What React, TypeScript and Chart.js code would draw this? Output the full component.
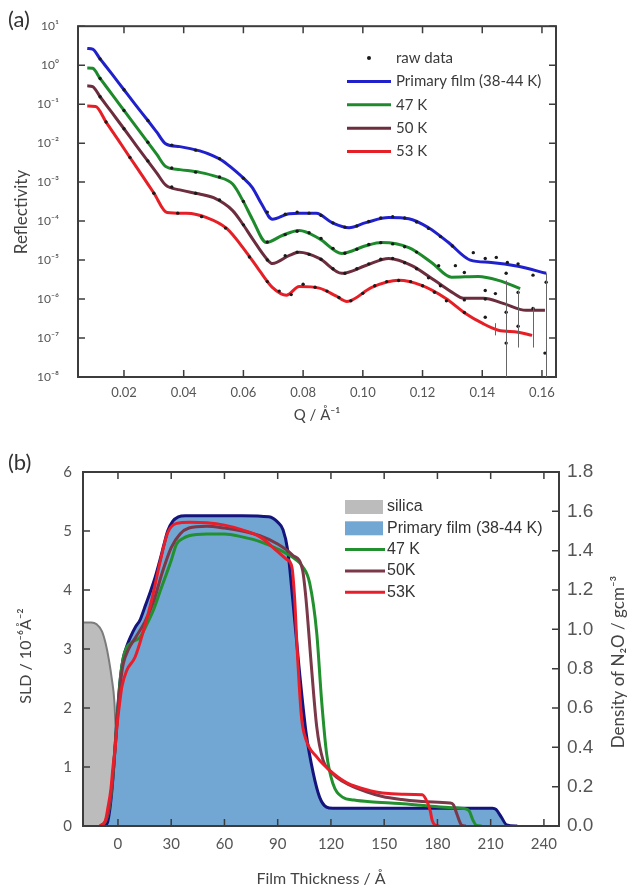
import React, { useEffect, useRef } from 'react';
import { Chart, registerables } from 'chart.js';

Chart.register(...registerables);

const FONT_CAL = "Lato, 'Open Sans', 'DejaVu Sans', sans-serif";
const FONT_ARIAL = "'Liberation Sans', Arial, sans-serif";

// ---------------- Panel (a): reflectivity ----------------
const qTicks = [0.02, 0.04, 0.06, 0.08, 0.1, 0.12, 0.14, 0.16];
const qTickLabels = ['0.02', '0.04', '0.06', '0.08', '0.10', '0.12', '0.14', '0.16'];
const rTicks = [10, 1, 0.1, 0.01, 1e-3, 1e-4, 1e-5, 1e-6, 1e-7, 1e-8];
const rTickLabels = ['10¹', '10⁰', '10⁻¹', '10⁻²', '10⁻³', '10⁻⁴', '10⁻⁵', '10⁻⁶', '10⁻⁷', '10⁻⁸'];

const primaryQ = [0.0077, 0.0095, 0.012, 0.016, 0.02, 0.024, 0.028, 0.031, 0.034, 0.0387, 0.0454, 0.0497, 0.053, 0.056, 0.06, 0.063, 0.066, 0.0697, 0.0754, 0.0787, 0.0844, 0.0897, 0.0954, 0.101, 0.1087, 0.1154, 0.122, 0.1287, 0.136, 0.143, 0.152, 0.1614];
const primaryR = [2.69, 2.57, 1.45, 0.589, 0.234, 0.0933, 0.038, 0.0191, 0.00955, 0.00813, 0.00631, 0.00479, 0.00355, 0.00234, 0.00126, 7.24e-4, 2.82e-4, 1.12e-4, 1.55e-4, 1.58e-4, 1.58e-4, 9.12e-5, 6.76e-5, 9.12e-5, 1.23e-4, 1.15e-4, 6.76e-5, 2.82e-5, 1.0e-5, 8.71e-6, 6.92e-6, 4.57e-6];

const k47Q = [0.0077, 0.0095, 0.012, 0.016, 0.02, 0.024, 0.028, 0.031, 0.034, 0.0387, 0.0454, 0.051, 0.0564, 0.06, 0.063, 0.0677, 0.073, 0.0787, 0.0854, 0.093, 0.101, 0.1064, 0.1154, 0.123, 0.1297, 0.1387, 0.1454, 0.1527];
const k47R = [0.851, 0.832, 0.457, 0.178, 0.0692, 0.0269, 0.0105, 0.00513, 0.00251, 0.00209, 0.00178, 0.00138, 8.91e-4, 3.16e-4, 1.12e-4, 2.82e-5, 4.27e-5, 5.75e-5, 3.55e-5, 1.48e-5, 2.34e-5, 2.82e-5, 2.09e-5, 8.71e-6, 3.63e-6, 3.8e-6, 3.02e-6, 1.86e-6];

const k50Q = [0.0077, 0.0095, 0.012, 0.016, 0.02, 0.024, 0.028, 0.031, 0.034, 0.0387, 0.045, 0.05, 0.0564, 0.06, 0.063, 0.0677, 0.0697, 0.0754, 0.0787, 0.0854, 0.093, 0.101, 0.1087, 0.1164, 0.124, 0.1304, 0.1337, 0.1404, 0.147, 0.1547, 0.161];
const k50R = [0.295, 0.282, 0.155, 0.0603, 0.0234, 0.00891, 0.00347, 0.0017, 8.32e-4, 6.31e-4, 5.01e-4, 3.98e-4, 1.86e-4, 7.94e-5, 3.55e-5, 1.1e-5, 8.13e-6, 1.32e-5, 1.58e-5, 1.1e-5, 4.57e-6, 7.24e-6, 1.1e-5, 7.24e-6, 3.02e-6, 1.41e-6, 1.05e-6, 1.05e-6, 7.76e-7, 5.13e-7, 5.13e-7];

const k53Q = [0.0077, 0.0105, 0.014, 0.018, 0.022, 0.026, 0.03, 0.0344, 0.041, 0.0477, 0.0544, 0.061, 0.0654, 0.0697, 0.0744, 0.0787, 0.0854, 0.091, 0.0947, 0.103, 0.112, 0.1197, 0.1277, 0.1344, 0.14, 0.1454, 0.152, 0.1567];
const k53R = [0.0891, 0.0871, 0.0347, 0.0123, 0.00427, 0.00151, 5.25e-4, 1.66e-4, 1.58e-4, 1.23e-4, 6.46e-5, 1.58e-5, 5.37e-6, 2.0e-6, 1.26e-6, 2.09e-6, 1.91e-6, 1.2e-6, 8.71e-7, 2.0e-6, 3.02e-6, 2.24e-6, 1.05e-6, 4.27e-7, 2.4e-7, 1.58e-7, 1.41e-7, 1.17e-7];

// raw data (all four measurements)
const rawQ = [
  0.012, 0.02, 0.028, 0.036, 0.044, 0.052, 0.06, 0.068, 0.074, 0.078, 0.082, 0.086, 0.09, 0.094, 0.098, 0.102, 0.106, 0.11, 0.114, 0.118, 0.122, 0.126, 0.13, 0.137, 0.141, 0.1447, 0.1484, 0.152, 0.157, 0.1614,
  0.012, 0.02, 0.028, 0.036, 0.044, 0.052, 0.06, 0.068, 0.074, 0.078, 0.082, 0.086, 0.09, 0.094, 0.098, 0.102, 0.106, 0.11, 0.114, 0.118, 0.1254, 0.131, 0.134, 0.141, 0.1444, 0.148, 0.152,
  0.012, 0.02, 0.028, 0.036, 0.044, 0.052, 0.06, 0.068, 0.074, 0.078, 0.082, 0.086, 0.09, 0.094, 0.098, 0.102, 0.106, 0.11, 0.114, 0.118, 0.122, 0.126, 0.134, 0.141, 0.148, 0.157, 0.161,
  0.014, 0.022, 0.03, 0.038, 0.046, 0.054, 0.062, 0.068, 0.072, 0.076, 0.08, 0.084, 0.088, 0.092, 0.096, 0.1, 0.104, 0.108, 0.112, 0.116, 0.12, 0.124, 0.128, 0.134, 0.141, 0.148, 0.152,
];
const rawR = [
  1.45, 0.234, 0.038, 0.0089, 0.0066, 0.004, 0.00126, 1.7e-4, 1.5e-4, 1.7e-4, 1.6e-4, 1.4e-4, 9e-5, 7e-5, 7.5e-5, 9.8e-5, 1.2e-4, 1.3e-4, 1.2e-4, 9.5e-5, 6.5e-5, 4e-5, 2.3e-5, 1.55e-5, 1.1e-5, 1.17e-5, 8.7e-6, 8e-6, 4.1e-6, 2.7e-6,
  0.457, 0.069, 0.0105, 0.0023, 0.0018, 0.00135, 3.2e-4, 2.9e-5, 4.5e-5, 5.5e-5, 5e-5, 3.6e-5, 2e-5, 1.5e-5, 1.9e-5, 2.5e-5, 2.8e-5, 2.6e-5, 2.2e-5, 1.6e-5, 7.2e-6, 7.2e-6, 4.8e-6, 1.66e-6, 1.38e-6, 4.6e-6, 1.48e-6,
  0.155, 0.0234, 0.0035, 7.5e-4, 5.2e-4, 3.5e-4, 8e-5, 1.0e-5, 1.3e-5, 1.6e-5, 1.4e-5, 1.05e-5, 6e-6, 4.6e-6, 6e-6, 8e-6, 1.05e-5, 1.1e-5, 8.5e-6, 6e-6, 3.5e-6, 2.2e-6, 9.5e-7, 1.0e-6, 4.6e-7, 5.7e-7, 4.1e-8,
  0.0347, 0.0043, 5.2e-4, 1.6e-4, 1.3e-4, 6.6e-5, 1.2e-5, 2.8e-6, 1.6e-6, 1.3e-6, 2.4e-6, 2.0e-6, 1.6e-6, 1.1e-6, 9e-7, 1.4e-6, 2.2e-6, 2.8e-6, 3.0e-6, 2.8e-6, 2.2e-6, 1.5e-6, 9e-7, 4.5e-7, 3.4e-7, 7.4e-8, 2.0e-7,
];
// visible error bars
const errQ = [0.1444, 0.148, 0.152, 0.157, 0.1614];
const errLo = [1.17e-7, 1e-9, 5.7e-8, 5.7e-8, 1e-9];
const errHi = [2.4e-7, 3e-6, 1.66e-6, 6.2e-7, 4.6e-6];

const legendLabelsA = ['raw data', 'Primary film (38-44 K)', '47 K', '50 K', '53 K'];

// ---------------- Panel (b): SLD profiles ----------------
const thickTicks = [0, 30, 60, 90, 120, 150, 180, 210, 240];
const thickTickLabels = ['0', '30', '60', '90', '120', '150', '180', '210', '240'];
const sldTicks = [0, 1, 2, 3, 4, 5, 6];
const sldTickLabels = ['0', '1', '2', '3', '4', '5', '6'];
const densTicks = [0, 0.2, 0.4, 0.6, 0.8, 1.0, 1.2, 1.4, 1.6, 1.8];
const densTickLabels = ['0.0', '0.2', '0.4', '0.6', '0.8', '1.0', '1.2', '1.4', '1.6', '1.8'];

const silicaZ = [-20, -15, -12, -9, -7, -5, -3.5, -2, -1, 0, 1, 2.5];
const silicaSLD = [3.45, 3.45, 3.42, 3.3, 3.1, 2.8, 2.5, 2.1, 1.4, 0.6, 0.15, 0];

const filmZ = [-8, -6, -4.5, -3, -1.5, 0, 1.5, 3, 5, 7, 10, 12.4, 15, 18, 21, 23.6, 26, 28, 31, 34, 38, 50, 70, 85, 90, 93, 95.6, 98.5, 102, 106, 110, 113.6, 117.5, 121, 150, 180, 211, 213, 216, 219, 225];
const filmSLD = [0, 0.05, 0.3, 0.75, 1.4, 2.05, 2.55, 2.85, 3.05, 3.2, 3.38, 3.49, 3.7, 3.95, 4.22, 4.5, 4.78, 5.0, 5.17, 5.24, 5.26, 5.26, 5.26, 5.24, 5.15, 5.02, 4.68, 3.83, 2.7, 1.58, 0.9, 0.49, 0.32, 0.3, 0.3, 0.3, 0.3, 0.28, 0.15, 0.02, 0];

const p47Z = [-10, -7, -5, -3, -1.5, 0, 1.5, 3, 5, 8, 12.4, 16, 20, 24, 27.5, 30, 33, 37, 40, 50, 60, 70, 80, 91, 100, 104, 108, 112, 114.7, 117.5, 121, 126.5, 133, 142, 158.6, 175, 188, 196, 198, 200, 202, 205];
const p47SLD = [0, 0.08, 0.3, 0.8, 1.4, 2.0, 2.55, 2.85, 3.03, 3.12, 3.2, 3.4, 3.66, 4.0, 4.29, 4.5, 4.78, 4.88, 4.92, 4.95, 4.95, 4.9, 4.82, 4.68, 4.52, 4.4, 4.12, 3.27, 2.14, 1.24, 0.73, 0.49, 0.44, 0.41, 0.38, 0.34, 0.31, 0.29, 0.25, 0.1, 0.01, 0];

const p50Z = [-10, -7, -5, -3, -1.5, 0, 1.5, 3, 6, 10, 15, 20, 25, 30, 35, 40, 50, 60, 70, 80, 90, 98.5, 104, 106, 109, 112, 115.5, 119, 123, 130, 140, 149, 160, 174, 187, 189, 191, 193.5, 196];
const p50SLD = [0, 0.08, 0.3, 0.8, 1.35, 1.95, 2.45, 2.75, 3.0, 3.2, 3.45, 3.8, 4.3, 4.72, 4.95, 5.05, 5.08, 5.05, 5.0, 4.92, 4.78, 4.59, 4.34, 3.83, 2.7, 1.68, 1.12, 0.95, 0.83, 0.7, 0.58, 0.5, 0.45, 0.41, 0.39, 0.36, 0.2, 0.02, 0];

const p53Z = [-10, -7, -5.6, -4, -2.8, -1.5, -0.6, 1, 2.2, 5, 9.6, 14, 19, 23.6, 28, 33, 40.5, 50, 60, 70, 80, 90, 95, 98, 99.6, 101, 103.4, 106, 112, 119, 129, 142, 149, 160, 171.5, 174.5, 176, 177, 179, 181];
const p53SLD = [0, 0.1, 0.32, 0.62, 1.0, 1.35, 1.68, 2.1, 2.36, 2.64, 2.86, 3.27, 3.83, 4.46, 4.97, 5.13, 5.15, 5.14, 5.1, 5.02, 4.9, 4.65, 4.52, 4.39, 3.83, 2.98, 1.85, 1.46, 1.17, 0.95, 0.73, 0.6, 0.56, 0.54, 0.53, 0.39, 0.25, 0.1, 0.01, 0];

const legendLabelsB = ['silica', 'Primary film (38-44 K)', '47 K', '50K', '53K'];

// ---------------- helpers ----------------
const pts = (xs: number[], ys: number[]) => xs.map((x, i) => ({ x, y: ys[i] }));

function frameTicks(id: string, xTicks: number[], yTicks: number[], rightScale: string, rightTicks: number[], len: number) {
  return {
    id,
    afterDatasetsDraw(chart: any) {
      const { ctx, chartArea: a, scales } = chart;
      ctx.save();
      ctx.strokeStyle = '#3c3c3c';
      ctx.lineWidth = 1.5;
      ctx.beginPath();
      for (const v of xTicks) {
        const px = scales.x.getPixelForValue(v);
        ctx.moveTo(px, a.bottom); ctx.lineTo(px, a.bottom - len);
        ctx.moveTo(px, a.top); ctx.lineTo(px, a.top + len);
      }
      for (const v of yTicks) {
        const py = scales.y.getPixelForValue(v);
        ctx.moveTo(a.left, py); ctx.lineTo(a.left + len, py);
      }
      for (const v of rightTicks) {
        const py = scales[rightScale].getPixelForValue(v);
        ctx.moveTo(a.right, py); ctx.lineTo(a.right - len, py);
      }
      ctx.stroke();
      ctx.lineWidth = 2;
      ctx.strokeRect(a.left, a.top, a.right - a.left, a.bottom - a.top);
      ctx.restore();
    },
  };
}

function rotatedText(id: string, items: { text: string; x: number; y: number; font: string; color: string }[]) {
  return {
    id,
    afterDraw(chart: any) {
      const ctx = chart.ctx;
      for (const it of items) {
        ctx.save();
        ctx.translate(it.x, it.y);
        ctx.rotate(-Math.PI / 2);
        ctx.font = it.font;
        ctx.fillStyle = it.color;
        ctx.textAlign = 'center';
        ctx.textBaseline = 'middle';
        ctx.fillText(it.text, 0, 0);
        ctx.restore();
      }
    },
  };
}

const errorBars = {
  id: 'errorBars',
  afterDatasetsDraw(chart: any) {
    const { ctx, chartArea: a, scales } = chart;
    ctx.save();
    ctx.beginPath();
    ctx.rect(a.left, a.top, a.right - a.left, a.bottom - a.top);
    ctx.clip();
    ctx.strokeStyle = '#666';
    ctx.lineWidth = 1;
    ctx.beginPath();
    errQ.forEach((q, i) => {
      const px = Math.round(scales.x.getPixelForValue(q)) + 0.5;
      ctx.moveTo(px, scales.y.getPixelForValue(errLo[i]));
      ctx.lineTo(px, scales.y.getPixelForValue(errHi[i]));
    });
    ctx.stroke();
    ctx.restore();
  },
};

const legendA = {
  id: 'legendA',
  afterDraw(chart: any) {
    const ctx = chart.ctx;
    ctx.save();
    ctx.font = `15px ${FONT_CAL}`;
    ctx.textBaseline = 'middle';
    chart.data.datasets.forEach((ds: any, i: number) => {
      const y = 58 + i * 23.4;
      if (i === 0) {
        ctx.fillStyle = ds.pointBackgroundColor;
        ctx.beginPath();
        ctx.arc(369, y, 2, 0, Math.PI * 2);
        ctx.fill();
      } else {
        ctx.strokeStyle = ds.borderColor;
        ctx.lineWidth = 3;
        ctx.beginPath();
        ctx.moveTo(347, y);
        ctx.lineTo(391, y);
        ctx.stroke();
      }
      ctx.fillStyle = '#3a3a3a';
      ctx.fillText(ds.label, 396, y);
    });
    ctx.restore();
  },
};

const legendB = {
  id: 'legendB',
  afterDraw(chart: any) {
    const ctx = chart.ctx;
    ctx.save();
    ctx.font = `16px ${FONT_ARIAL}`;
    ctx.textBaseline = 'middle';
    chart.data.datasets.forEach((ds: any, i: number) => {
      const y = 67 + i * 21.3;
      if (ds.fill) {
        ctx.fillStyle = ds.backgroundColor;
        ctx.fillRect(345, y - 7, 38, 14);
      } else {
        ctx.strokeStyle = ds.borderColor;
        ctx.lineWidth = 3;
        ctx.beginPath();
        ctx.moveTo(345, y);
        ctx.lineTo(385, y);
        ctx.stroke();
      }
      ctx.fillStyle = '#333';
      ctx.fillText(ds.label, 387, y);
    });
    ctx.restore();
  },
};

function configA(): any {
  const line = (label: string, q: number[], r: number[], color: string) => ({
    label,
    data: pts(q, r),
    borderColor: color,
    backgroundColor: color,
    borderWidth: 3,
    pointRadius: 0,
    cubicInterpolationMode: 'monotone',
    fill: false,
  });
  return {
    type: 'line',
    data: {
      datasets: [
        {
          label: legendLabelsA[0],
          data: pts(rawQ, rawR),
          showLine: false,
          pointRadius: 1.7,
          pointBorderWidth: 0,
          pointBackgroundColor: '#1a1a1a',
          borderColor: '#1a1a1a',
        },
        line(legendLabelsA[1], primaryQ, primaryR, '#2020cc'),
        line(legendLabelsA[2], k47Q, k47R, '#1d8a2c'),
        line(legendLabelsA[3], k50Q, k50R, '#6c2e3e'),
        line(legendLabelsA[4], k53Q, k53R, '#e61f26'),
      ],
    },
    options: {
      responsive: false,
      animation: false,
      layout: { padding: { left: 0, right: 73, top: 25, bottom: 0 } },
      plugins: { legend: { display: false }, tooltip: { enabled: false } },
      scales: {
        x: {
          type: 'linear',
          min: 0.0046,
          max: 0.1647,
          afterBuildTicks: (s: any) => { s.ticks = qTicks.map((v) => ({ value: v })); },
          afterFit: (s: any) => { s.height = 63; },
          grid: { display: false, drawTicks: false },
          border: { display: false },
          ticks: {
            autoSkip: false, maxRotation: 0, padding: 8,
            callback: (_v: any, i: number) => qTickLabels[i],
            font: { family: FONT_CAL, size: 13 }, color: '#555',
          },
          title: {
            display: true, text: 'Q / Å⁻¹',
            font: { family: FONT_CAL, size: 15 }, color: '#444',
            padding: { top: 0, bottom: 16 },
          },
        },
        y: {
          type: 'logarithmic',
          min: 1e-8,
          max: 10,
          afterBuildTicks: (s: any) => { s.ticks = rTicks.map((v) => ({ value: v })); },
          afterFit: (s: any) => { s.width = 78; },
          grid: { display: false, drawTicks: false },
          border: { display: false },
          ticks: {
            autoSkip: false, padding: 19,
            callback: (_v: any, i: number) => rTickLabels[i],
            font: { family: FONT_CAL, size: 12 }, color: '#555',
          },
        },
      },
    },
    plugins: [
      frameTicks('frameA', qTicks, rTicks, 'y', rTicks, 7),
      errorBars,
      legendA,
      rotatedText('titleA', [{ text: 'Reflectivity', x: 22, y: 212, font: `17px ${FONT_CAL}`, color: '#444' }]),
    ],
  };
}

function configB(): any {
  const prof = (label: string, z: number[], s: number[], color: string, order: number) => ({
    label,
    data: pts(z, s),
    borderColor: color,
    backgroundColor: color,
    borderWidth: 3,
    pointRadius: 0,
    cubicInterpolationMode: 'monotone',
    fill: false,
    order,
    yAxisID: 'y',
  });
  return {
    type: 'line',
    data: {
      datasets: [
        {
          label: legendLabelsB[0],
          data: pts(silicaZ, silicaSLD),
          borderColor: '#7c7c7c',
          backgroundColor: '#bcbcbc',
          borderWidth: 2,
          pointRadius: 0,
          cubicInterpolationMode: 'monotone',
          fill: 'origin',
          order: 5,
          yAxisID: 'y',
        },
        {
          label: legendLabelsB[1],
          data: pts(filmZ, filmSLD),
          borderColor: '#14147c',
          backgroundColor: '#72a7d3',
          borderWidth: 3,
          pointRadius: 0,
          cubicInterpolationMode: 'monotone',
          fill: 'origin',
          order: 4,
          yAxisID: 'y',
        },
        prof(legendLabelsB[2], p47Z, p47SLD, '#22902e', 3),
        prof(legendLabelsB[3], p50Z, p50SLD, '#7a3848', 2),
        prof(legendLabelsB[4], p53Z, p53SLD, '#e81e2a', 1),
      ],
    },
    options: {
      responsive: false,
      animation: false,
      layout: { padding: { left: 0, right: 0, top: 32, bottom: 0 } },
      plugins: { legend: { display: false }, tooltip: { enabled: false } },
      scales: {
        x: {
          type: 'linear',
          min: -19.7,
          max: 248.5,
          afterBuildTicks: (s: any) => { s.ticks = thickTicks.map((v) => ({ value: v })); },
          afterFit: (s: any) => { s.height = 66; },
          grid: { display: false, drawTicks: false },
          border: { display: false },
          ticks: {
            autoSkip: false, maxRotation: 0, padding: 9,
            callback: (_v: any, i: number) => thickTickLabels[i],
            font: { family: FONT_CAL, size: 15 }, color: '#555',
          },
          title: {
            display: true, text: 'Film Thickness / Å',
            font: { family: FONT_CAL, size: 16 }, color: '#444',
            padding: { top: 0, bottom: 4 },
          },
        },
        y: {
          type: 'linear',
          position: 'left',
          min: 0,
          max: 6,
          afterBuildTicks: (s: any) => { s.ticks = sldTicks.map((v) => ({ value: v })); },
          afterFit: (s: any) => { s.width = 83; },
          grid: { display: false, drawTicks: false },
          border: { display: false },
          ticks: {
            autoSkip: false, padding: 11,
            callback: (_v: any, i: number) => sldTickLabels[i],
            font: { family: FONT_CAL, size: 15 }, color: '#555',
          },
        },
        y1: {
          type: 'linear',
          position: 'right',
          min: 0,
          max: 1.8,
          afterBuildTicks: (s: any) => { s.ticks = densTicks.map((v) => ({ value: v })); },
          afterFit: (s: any) => { s.width = 70; },
          grid: { display: false, drawTicks: false, drawOnChartArea: false },
          border: { display: false },
          ticks: {
            autoSkip: false, padding: 8,
            callback: (_v: any, i: number) => densTickLabels[i],
            font: { family: FONT_ARIAL, size: 19 }, color: '#555',
          },
        },
      },
    },
    plugins: [
      frameTicks('frameB', thickTicks, sldTicks, 'y1', densTicks, 7),
      legendB,
      rotatedText('titlesB', [
        { text: 'SLD / 10⁻⁶Å⁻²', x: 26, y: 216, font: `16px ${FONT_CAL}`, color: '#444' },
        { text: 'Density of N₂O / gcm⁻³', x: 619, y: 222, font: `17px ${FONT_CAL}`, color: '#444' },
      ]),
    ],
  };
}

export default function App() {
  const refA = useRef<HTMLCanvasElement>(null);
  const refB = useRef<HTMLCanvasElement>(null);
  useEffect(() => {
    const a = new Chart(refA.current as HTMLCanvasElement, configA());
    const b = new Chart(refB.current as HTMLCanvasElement, configB());
    return () => {
      a.destroy();
      b.destroy();
    };
  }, []);
  const labelStyle: React.CSSProperties = {
    position: 'absolute', left: 8, font: `22px ${FONT_CAL}`, color: '#333', lineHeight: '26px',
  };
  return (
    <div style={{ position: 'absolute', left: 0, top: 0, width: 629, height: 892, background: '#fff', overflow: 'hidden' }}>
      <canvas ref={refA} width={629} height={440} style={{ position: 'absolute', left: 0, top: 0 }} />
      <canvas ref={refB} width={629} height={452} style={{ position: 'absolute', left: 0, top: 440 }} />
      <div style={{ ...labelStyle, top: 6 }}>(a)</div>
      <div style={{ ...labelStyle, top: 449 }}>(b)</div>
    </div>
  );
}
